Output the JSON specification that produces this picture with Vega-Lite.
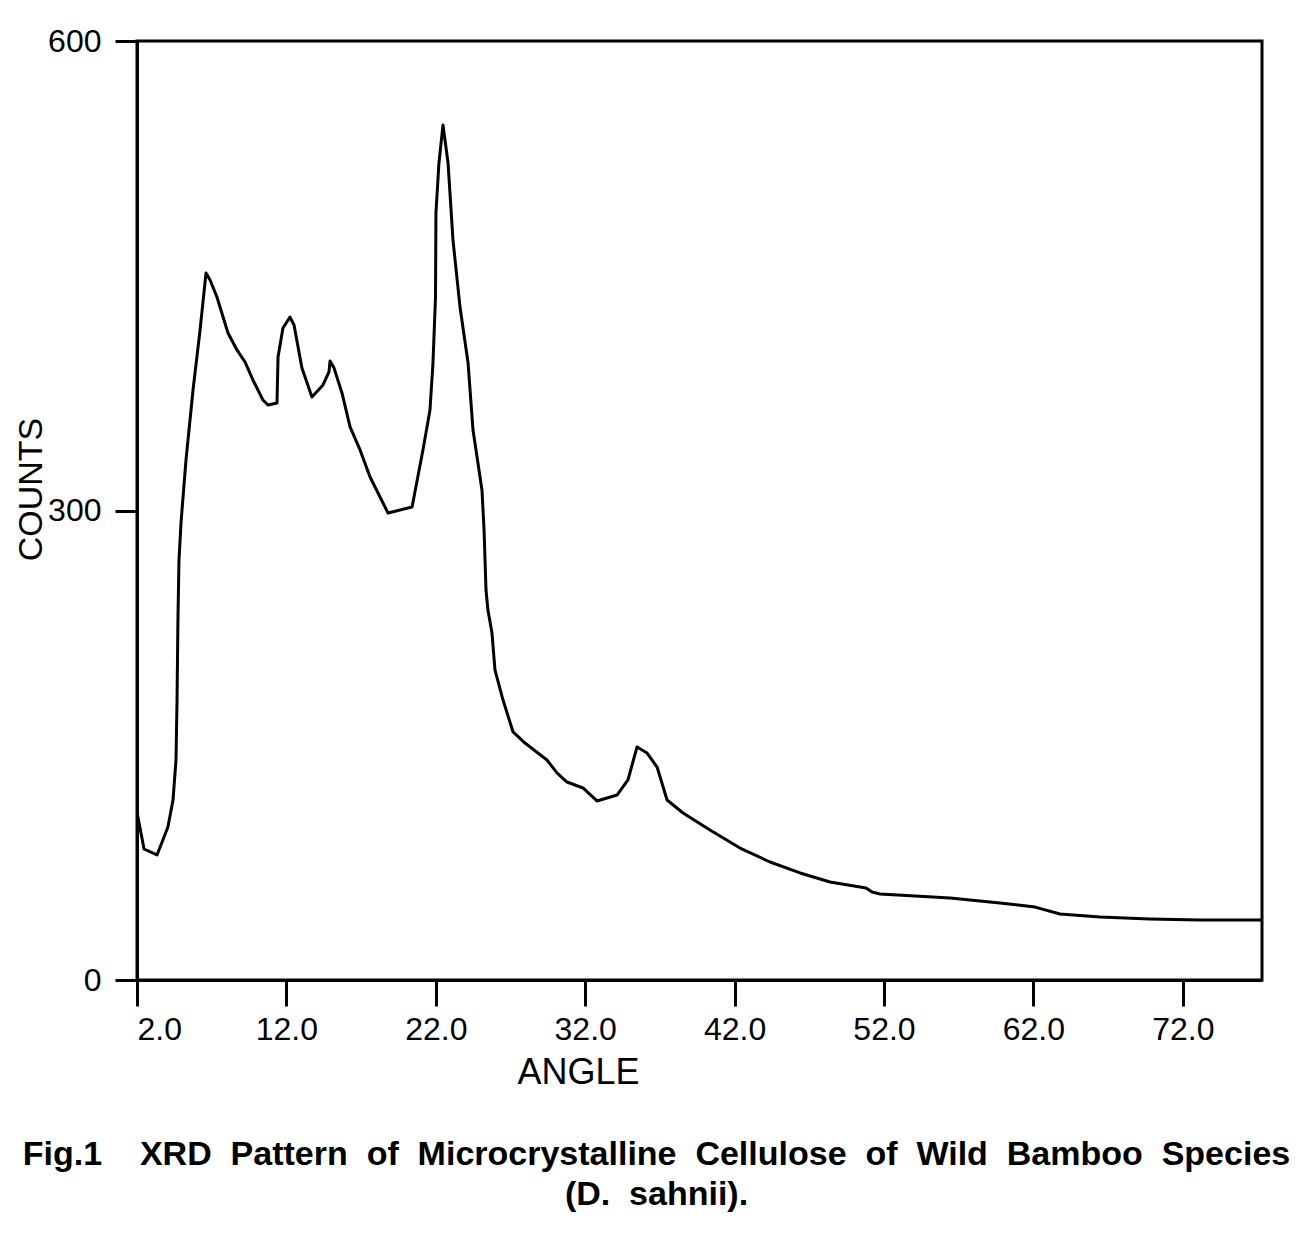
{
  "$schema": "https://vega.github.io/schema/vega-lite/v6.json",
  "width": 1125,
  "height": 939,
  "autosize": {"type": "none"},
  "padding": {"left": 137, "top": 41, "right": 40, "bottom": 259},
  "background": "white",
  "config": {
    "view": {"stroke": "black", "strokeWidth": 3},
    "axis": {"grid": false, "domainColor": "black", "domainWidth": 3, "tickColor": "black", "tickWidth": 3, "labelColor": "black", "titleColor": "black", "labelFont": "Liberation Sans", "titleFont": "Liberation Sans", "labelFontWeight": "normal", "titleFontWeight": "normal"}
  },
  "title": {
    "text": ["Fig.1\u00a0\u00a0\u00a0\u00a0XRD\u00a0 Pattern\u00a0 of\u00a0 Microcrystalline\u00a0 Cellulose\u00a0 of\u00a0 Wild\u00a0 Bamboo\u00a0 Species", "(D.\u00a0 sahnii)."],
    "orient": "bottom",
    "anchor": "middle",
    "frame": "group",
    "dx": -43,
    "offset": 48,
    "font": "Liberation Sans",
    "fontSize": 34,
    "fontWeight": "bold",
    "color": "black",
    "lineHeight": 40
  },
  "data": {
    "values": [
      {"angle": 2.00, "counts": 107.3},
      {"angle": 2.47, "counts": 83.7},
      {"angle": 3.34, "counts": 79.9},
      {"angle": 4.07, "counts": 97.8},
      {"angle": 4.41, "counts": 115.0},
      {"angle": 4.61, "counts": 140.6},
      {"angle": 4.68, "counts": 178.9},
      {"angle": 4.74, "counts": 230.0},
      {"angle": 4.81, "counts": 268.4},
      {"angle": 4.95, "counts": 292.7},
      {"angle": 5.28, "counts": 332.3},
      {"angle": 5.75, "counts": 377.0},
      {"angle": 6.22, "counts": 415.3},
      {"angle": 6.62, "counts": 451.8},
      {"angle": 6.89, "counts": 447.3},
      {"angle": 7.35, "counts": 436.4},
      {"angle": 8.09, "counts": 413.4},
      {"angle": 8.69, "counts": 402.6},
      {"angle": 9.23, "counts": 394.9},
      {"angle": 9.76, "counts": 383.4},
      {"angle": 10.43, "counts": 370.6},
      {"angle": 10.77, "counts": 367.4},
      {"angle": 11.37, "counts": 368.7},
      {"angle": 11.44, "counts": 398.1},
      {"angle": 11.77, "counts": 416.6},
      {"angle": 12.24, "counts": 423.6},
      {"angle": 12.51, "counts": 418.5},
      {"angle": 13.04, "counts": 391.0},
      {"angle": 13.71, "counts": 372.5},
      {"angle": 14.45, "counts": 380.2},
      {"angle": 14.85, "counts": 388.5},
      {"angle": 14.92, "counts": 395.5},
      {"angle": 15.19, "counts": 391.0},
      {"angle": 15.72, "counts": 375.1},
      {"angle": 16.26, "counts": 353.4},
      {"angle": 16.93, "counts": 338.7},
      {"angle": 17.60, "counts": 321.4},
      {"angle": 18.80, "counts": 298.4},
      {"angle": 20.41, "counts": 302.2},
      {"angle": 21.14, "counts": 338.7},
      {"angle": 21.61, "counts": 364.2},
      {"angle": 21.81, "counts": 394.2},
      {"angle": 21.98, "counts": 436.4},
      {"angle": 22.01, "counts": 490.1},
      {"angle": 22.21, "counts": 522.0},
      {"angle": 22.48, "counts": 546.3},
      {"angle": 22.82, "counts": 522.0},
      {"angle": 23.15, "counts": 472.8},
      {"angle": 23.62, "counts": 430.0},
      {"angle": 24.16, "counts": 394.2},
      {"angle": 24.49, "counts": 351.4},
      {"angle": 25.09, "counts": 313.1},
      {"angle": 25.23, "counts": 287.5},
      {"angle": 25.36, "counts": 249.2},
      {"angle": 25.49, "counts": 236.4},
      {"angle": 25.76, "counts": 221.7},
      {"angle": 25.96, "counts": 198.1},
      {"angle": 26.50, "counts": 178.9},
      {"angle": 27.17, "counts": 158.5},
      {"angle": 27.97, "counts": 151.4},
      {"angle": 29.44, "counts": 140.6},
      {"angle": 30.11, "counts": 132.3},
      {"angle": 30.78, "counts": 126.5},
      {"angle": 31.85, "counts": 122.7},
      {"angle": 32.79, "counts": 114.4},
      {"angle": 34.13, "counts": 118.2},
      {"angle": 34.86, "counts": 127.8},
      {"angle": 35.47, "counts": 148.9},
      {"angle": 36.14, "counts": 145.0},
      {"angle": 36.81, "counts": 136.1},
      {"angle": 37.48, "counts": 115.0},
      {"angle": 38.55, "counts": 106.7},
      {"angle": 40.35, "counts": 95.8},
      {"angle": 42.36, "counts": 84.3},
      {"angle": 44.37, "counts": 75.4},
      {"angle": 46.38, "counts": 68.4},
      {"angle": 48.39, "counts": 62.6},
      {"angle": 50.80, "counts": 58.8},
      {"angle": 51.20, "counts": 56.2},
      {"angle": 51.73, "counts": 55.0},
      {"angle": 56.42, "counts": 52.4},
      {"angle": 59.76, "counts": 49.2},
      {"angle": 62.11, "counts": 46.6},
      {"angle": 63.78, "counts": 42.2},
      {"angle": 66.46, "counts": 40.3},
      {"angle": 69.80, "counts": 39.0},
      {"angle": 73.15, "counts": 38.3},
      {"angle": 77.30, "counts": 38.3}
    ]
  },
  "mark": {"type": "line", "color": "black", "strokeWidth": 3, "strokeJoin": "round", "clip": true},
  "encoding": {
    "x": {
      "field": "angle",
      "type": "quantitative",
      "scale": {"domain": [2, 77.3], "nice": false, "zero": false},
      "axis": {
        "values": [2, 12, 22, 32, 42, 52, 62, 72],
        "format": ".1f",
        "tickSize": 26,
        "labelPadding": 8,
        "labelFontSize": 32,
        "title": "ANGLE",
        "titleFontSize": 36,
        "titleX": 441,
        "titleY": 92,
        "titleAlign": "center",
        "titleBaseline": "middle",
        "titleAnchor": null
      }
    },
    "y": {
      "field": "counts",
      "type": "quantitative",
      "scale": {"domain": [0, 600], "nice": false},
      "axis": {
        "values": [0, 300, 600],
        "tickSize": 22,
        "labelPadding": 14,
        "labelFontSize": 32,
        "title": "COUNTS",
        "titleFontSize": 34,
        "titleAngle": -90,
        "titleX": -106,
        "titleY": 448,
        "titleAlign": "center",
        "titleBaseline": "middle"
      }
    }
  }
}
